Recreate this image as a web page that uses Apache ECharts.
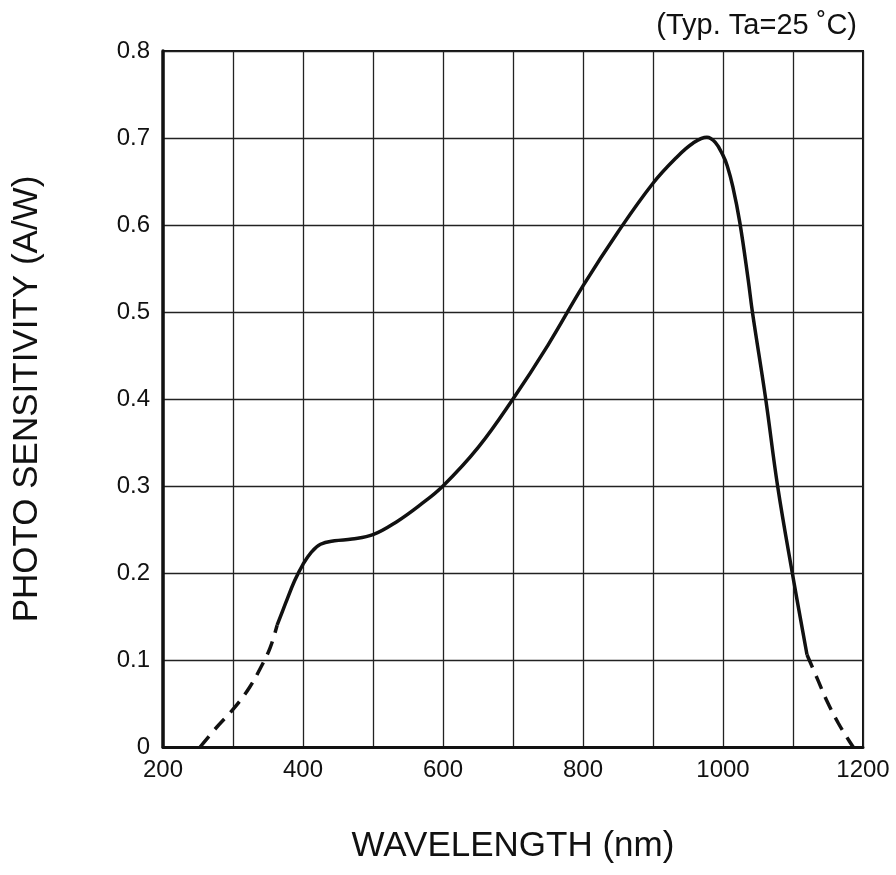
<!DOCTYPE html>
<html>
<head>
<meta charset="utf-8">
<script src="https://cdn.jsdelivr.net/npm/echarts@6/dist/echarts.min.js"></script>
<style>
  html, body { margin: 0; padding: 0; background: #fff; }
  #main { width: 896px; height: 875px; }
</style>
</head>
<body>
<div id="main"></div>
<script>
// 波长 (nm) / 灵敏度 (A/W)
var leftDashWl = [253, 277, 303, 324, 340, 353, 363];
var leftDashPs = [0, 0.023, 0.046, 0.069, 0.092, 0.114, 0.14];

var solidWl = [363, 375, 388, 400, 412, 425, 445, 470, 500, 534, 567, 600, 650, 700, 750, 800, 850, 900, 934, 957, 977, 989, 1000, 1006, 1014, 1024, 1036, 1042, 1061, 1078, 1099, 1120];
var solidPs = [0.14, 0.165, 0.191, 0.21, 0.224, 0.233, 0.237, 0.239, 0.244, 0.259, 0.278, 0.300, 0.344, 0.400, 0.462, 0.530, 0.592, 0.648, 0.678, 0.694, 0.701, 0.695, 0.680, 0.668, 0.644, 0.603, 0.537, 0.500, 0.400, 0.300, 0.200, 0.106];

var rightDashWl = [1120, 1135, 1149, 1165, 1181, 1186];
var rightDashPs = [0.106, 0.078, 0.052, 0.027, 0.006, 0];

var xTicks = [200, 400, 600, 800, 1000, 1200];

function pairs(xs, ys) {
  return xs.map(function (x, i) { return [x, ys[i]]; });
}

var myChart = echarts.init(document.getElementById('main'));

var lineColor = '#111';
var font = 'Liberation Sans, Arial, sans-serif';

var option = {
  backgroundColor: '#fff',
  animation: false,
  title: {
    text: '(Typ. Ta=25 ˚C)',
    right: 34,
    top: 6,
    textStyle: { fontFamily: font, fontSize: 29, fontWeight: 'normal', color: '#111' }
  },
  grid: {
    left: 163, right: 33, top: 51, bottom: 128,
    show: true, borderColor: lineColor, borderWidth: 2
  },
  xAxis: {
    type: 'value',
    min: 200, max: 1200, interval: 100,
    name: 'WAVELENGTH (nm)',
    nameLocation: 'middle',
    nameGap: 82,
    nameTextStyle: { fontFamily: font, fontSize: 35, color: '#111' },
    axisLine: { show: true, lineStyle: { color: lineColor, width: 3 } },
    axisTick: { show: false },
    axisLabel: {
      margin: 11,
      fontFamily: font, fontSize: 24, color: '#111',
      formatter: function (v) { return xTicks.indexOf(v) >= 0 ? String(v) : ''; }
    },
    splitLine: { show: true, lineStyle: { color: '#222', width: 1.3 } }
  },
  yAxis: {
    type: 'value',
    min: 0, max: 0.8, interval: 0.1,
    name: 'PHOTO SENSITIVITY (A/W)',
    nameLocation: 'middle',
    nameGap: 118,
    nameRotate: 90,
    nameTextStyle: { fontFamily: font, fontSize: 35, color: '#111' },
    axisLine: { show: true, lineStyle: { color: lineColor, width: 3.5 } },
    axisTick: { show: false },
    axisLabel: {
      margin: 13,
      fontFamily: font, fontSize: 24, color: '#111',
      formatter: function (v) { return v === 0 ? '0' : v.toFixed(1); }
    },
    splitLine: { show: true, lineStyle: { color: '#222', width: 1.3 } }
  },
  series: [
    {
      type: 'line', data: pairs(leftDashWl, leftDashPs),
      showSymbol: false, smooth: 0.4,
      lineStyle: { color: lineColor, width: 3.5, type: [14, 9] }
    },
    {
      type: 'line', data: pairs(solidWl, solidPs),
      showSymbol: false, smooth: 0.4,
      lineStyle: { color: lineColor, width: 3.5 }
    },
    {
      type: 'line', data: pairs(rightDashWl, rightDashPs),
      showSymbol: false, smooth: 0.4,
      lineStyle: { color: lineColor, width: 3.5, type: [14, 9] }
    }
  ]
};

myChart.setOption(option);
</script>
</body>
</html>
